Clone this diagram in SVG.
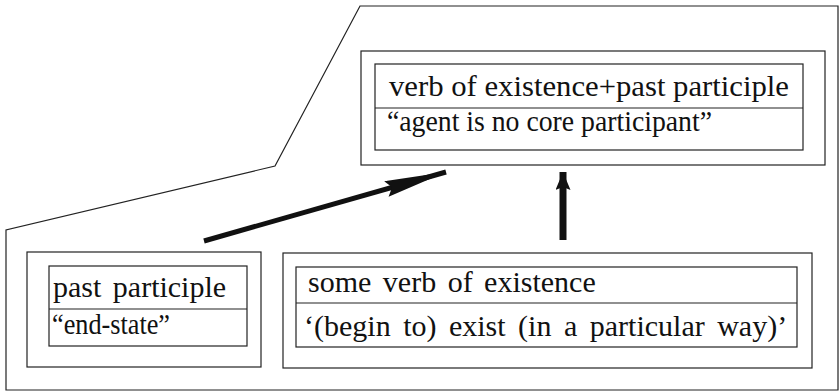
<svg xmlns="http://www.w3.org/2000/svg" width="840" height="392" viewBox="0 0 840 392">
<defs>
<style>
.ln{fill:none;stroke:#222;stroke-width:1.2}
.tx{font-family:"Liberation Serif","Times New Roman",serif;font-size:30px;fill:#111}
.ar{stroke:#111;fill:none}
</style>
<marker id="headD" markerUnits="userSpaceOnUse" markerWidth="64" markerHeight="18" refX="62" refY="8" orient="auto">
<path d="M0,0 L62,8 L0,16 L6,8 Z" fill="#111"/>
</marker>
<marker id="headV" markerUnits="userSpaceOnUse" markerWidth="20" markerHeight="16" refX="18" refY="7.5" orient="auto">
<path d="M0,0 L18,7.5 L0,15 L3,7.5 Z" fill="#111"/>
</marker>
</defs>
<rect width="840" height="392" fill="#fff"/>
<g id="frame">
<path class="ln" d="M360,6 L838,6 L838,390 L6,390 L6,230 L275,166 Z"/>
</g>
<g id="node-top">
<rect class="ln" x="361" y="51" width="464" height="114"/>
<rect class="ln" x="375" y="64" width="428" height="86"/>
<line class="ln" x1="375" y1="108" x2="803" y2="108"/>
<text class="tx" x="389" y="96" textLength="400" lengthAdjust="spacingAndGlyphs">verb of existence+past participle</text>
<text class="tx" x="387" y="131" textLength="325" lengthAdjust="spacingAndGlyphs">“agent is no core participant”</text>
</g>
<g id="node-past">
<rect class="ln" x="27" y="252" width="234" height="115"/>
<rect class="ln" x="49" y="266" width="198" height="80"/>
<line class="ln" x1="49" y1="309" x2="247" y2="309"/>
<text class="tx" x="53" y="297" word-spacing="4">past participle</text>
<text class="tx" x="52" y="334" textLength="118" lengthAdjust="spacingAndGlyphs">“end-state”</text>
</g>
<g id="node-verb">
<rect class="ln" x="283" y="253" width="529" height="115"/>
<rect class="ln" x="296" y="267" width="501" height="80"/>
<line class="ln" x1="296" y1="303" x2="797" y2="303"/>
<text class="tx" x="308" y="292" word-spacing="4">some verb of existence</text>
<text class="tx" x="304" y="336" word-spacing="5">‘(begin to) exist (in a particular way)’</text>
</g>
<g id="connectors">
<line class="ar" x1="204" y1="241" x2="446" y2="172" stroke-width="5" marker-end="url(#headD)"/>
<line class="ar" x1="563" y1="240" x2="563" y2="172" stroke-width="7" marker-end="url(#headV)"/>
</g>
</svg>
